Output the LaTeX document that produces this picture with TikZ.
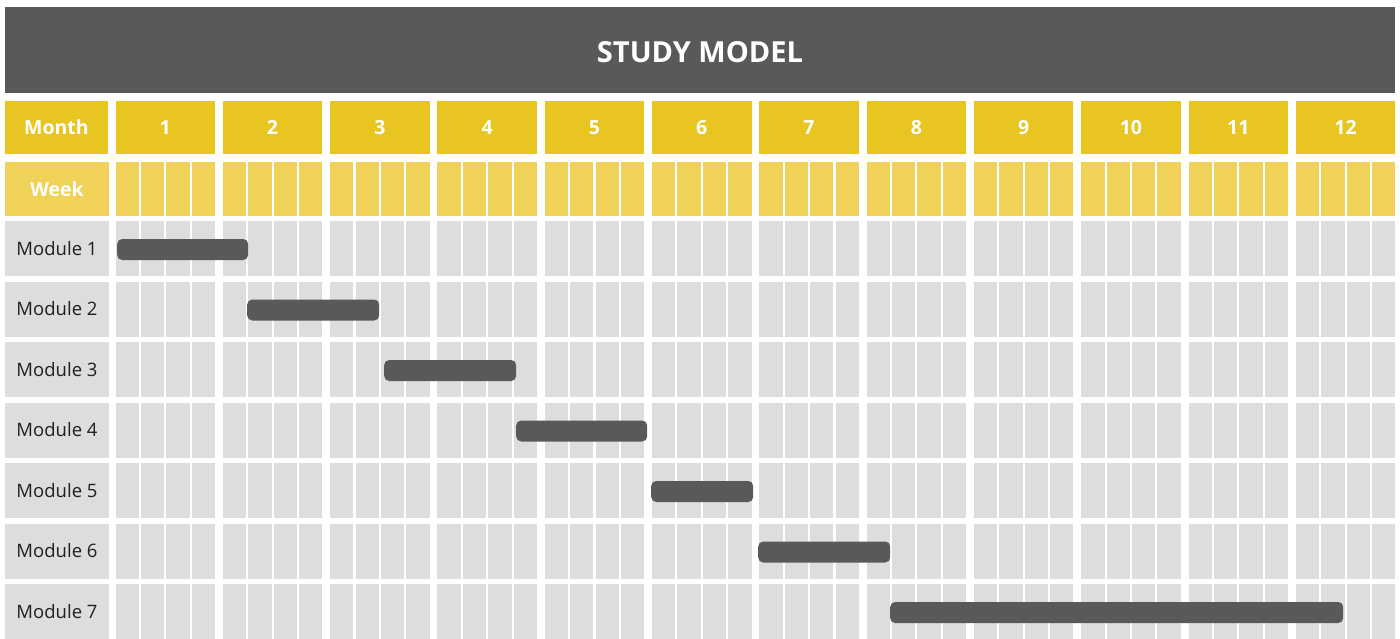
\documentclass[tikz,border=0pt]{standalone}
\usepackage{fontspec}
\setmainfont{Open Sans}
\definecolor{darkbar}{HTML}{58595B}
\definecolor{monthyellow}{HTML}{E9C521}
\definecolor{weekyellow}{HTML}{EFD257}
\definecolor{cellgrey}{HTML}{DCDDDE}
\definecolor{textdark}{HTML}{231F20}
\begin{document}
\begin{tikzpicture}[x=1pt, y=-1pt,
        header/.style={rectangle, fill=darkbar, text=white, inner sep=0pt, minimum width=1390pt, minimum height=86pt, font=\fontsize{29}{32}\selectfont\bfseries},
        monthcell/.style={rectangle, fill=monthyellow, text=white, inner sep=0pt, minimum width=99.5pt, minimum height=53pt, font=\fontsize{19.5}{22}\selectfont\bfseries},
        weeklabel/.style={rectangle, fill=weekyellow, text=white, inner sep=0pt, minimum width=104pt, minimum height=54pt, font=\fontsize{19.5}{22}\selectfont\bfseries},
        modlabel/.style={rectangle, fill=cellgrey, text=textdark, inner sep=0pt, minimum width=104pt, minimum height=55pt, font=\fontsize{18.5}{21}\selectfont},
        bar/.style={rectangle, fill=darkbar, rounded corners=5pt, inner sep=0pt, minimum height=21pt}
    ]
        \useasboundingbox (0,0) rectangle (1400,639);

        % Title
        \node[header] (title) at (700,50) {};
        \node[text=white, font=\fontsize{29}{32}\selectfont\bfseries] (titletext) at (700,52) {STUDY MODEL};

        % Row labels
        \node[monthcell, minimum width=103pt] (monthlbl) at (56.5,127.5) {Month};
        \node[weeklabel] (weeklbl) at (57,189) {Week};
        \foreach \r in {1,...,7}
            \node[modlabel] (mod\r) at (57,248.5+60.5*\r-60.5) {Module \r};

        % Months and weeks
        \foreach \m in {1,...,12} {
            \pgfmathsetmacro\mx{115.5+107.3*(\m-1)}
            \node[monthcell] (m\m) at (\mx+49.75,127.5) {\m};
            \foreach \j in {0,...,3} {
                \fill[weekyellow] (\mx+25.4*\j,162) rectangle ++(23.3,54);
                \foreach \r in {1,...,7}
                    \fill[cellgrey] (\mx+25.4*\j,221+60.5*\r-60.5) rectangle ++(23.3,55);
            }
        }

        % Module bars
        \foreach \r/\s/\e in {1/117/248, 2/247/379, 3/384/516, 4/516/647, 5/651/753, 6/758/890, 7/890/1343} {
            \pgfmathsetmacro\w{\e-\s}
            \node[bar, minimum width=\w pt, anchor=west] (bar\r) at (\s,249.5+60.5*\r-60.5) {};
        }
    \end{tikzpicture}
\end{document}
